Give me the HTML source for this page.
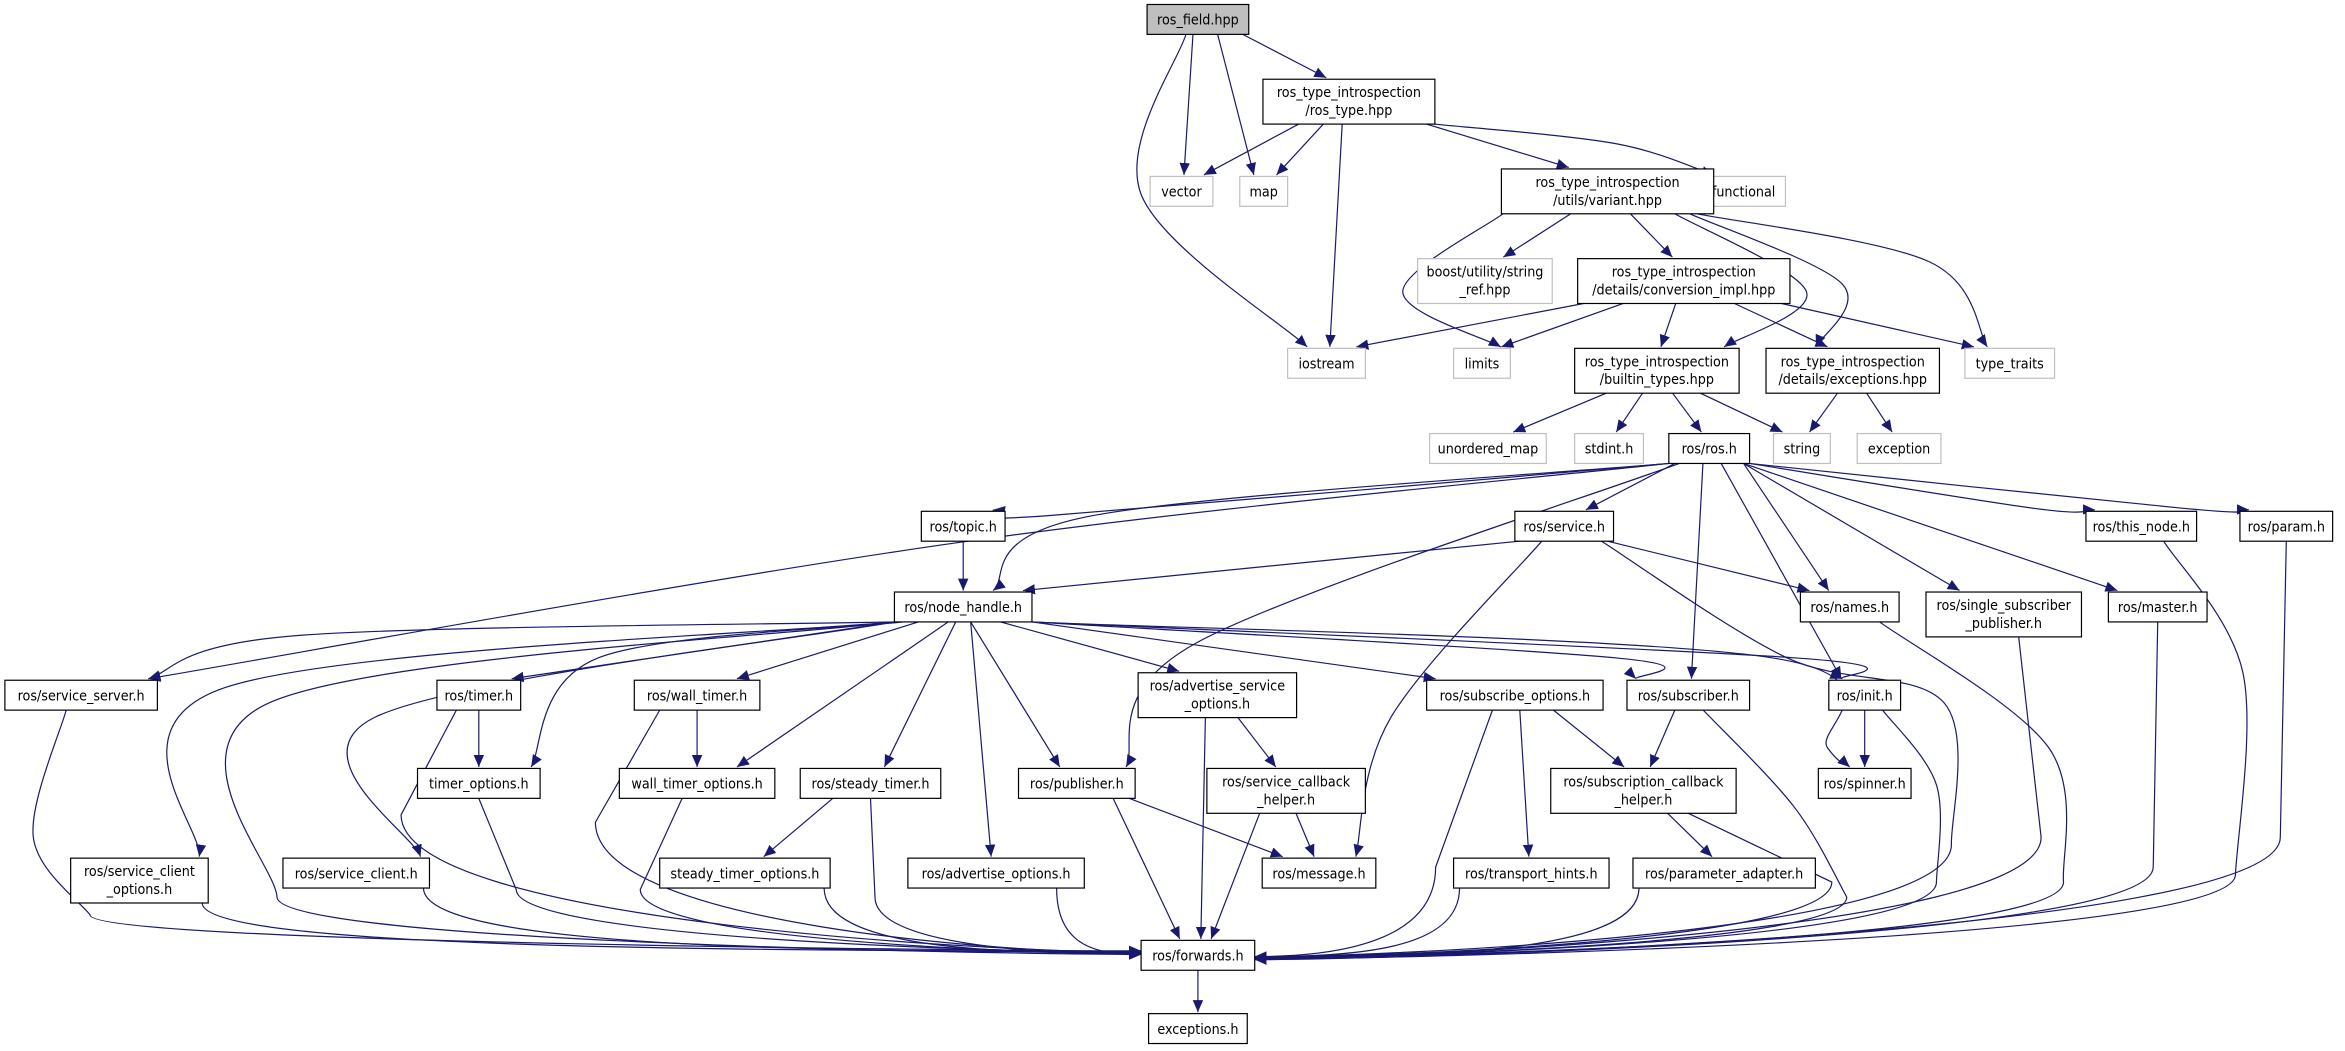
<!DOCTYPE html>
<html><head><meta charset="utf-8"><style>
html,body{margin:0;padding:0;background:#fff;}
svg{display:block;}
text{font-family:"DejaVu Sans Condensed","DejaVu Sans","Liberation Sans",sans-serif;font-size:9.5px;fill:#000;}
</style></head><body>
<svg id="g" width="2345" height="1051" viewBox="0 0 1568 703" xmlns="http://www.w3.org/2000/svg">
<defs><marker id="a" markerWidth="10" markerHeight="10" refX="8" refY="3.5" orient="auto" markerUnits="userSpaceOnUse"><path d="M0,0 L8,3.5 L0,7 Z" fill="#191970"/></marker></defs>
<rect width="1568" height="703" fill="#fff"/>
<g id="edges" fill="none" stroke="#191970" stroke-width="0.8"></g>
<g id="nodes">
<rect x="767" y="3" width="68" height="20" fill="#bfbfbf" stroke="#000" stroke-width="0.8"/><text x="801" y="16.5" text-anchor="middle">ros_field.hpp</text>
<rect x="844.5" y="53" width="115" height="30" fill="#fff" stroke="#000" stroke-width="0.8"/><text x="902" y="65" text-anchor="middle">ros_type_introspection</text><text x="902" y="77" text-anchor="middle">/ros_type.hpp</text>
<rect x="769" y="118" width="42" height="20" fill="#fff" stroke="#bfbfbf" stroke-width="0.8"/><text x="790" y="131.5" text-anchor="middle">vector</text>
<rect x="829" y="118" width="32" height="20" fill="#fff" stroke="#bfbfbf" stroke-width="0.8"/><text x="845" y="131.5" text-anchor="middle">map</text>
<rect x="1138" y="118" width="56" height="20" fill="#fff" stroke="#bfbfbf" stroke-width="0.8"/><text x="1166" y="131.5" text-anchor="middle">functional</text>
<rect x="1004" y="113" width="142" height="30" fill="#fff" stroke="#000" stroke-width="0.8"/><text x="1075" y="125" text-anchor="middle">ros_type_introspection</text><text x="1075" y="137" text-anchor="middle">/utils/variant.hpp</text>
<rect x="948" y="173" width="90" height="30" fill="#fff" stroke="#bfbfbf" stroke-width="0.8"/><text x="993" y="185" text-anchor="middle">boost/utility/string</text><text x="993" y="197" text-anchor="middle">_ref.hpp</text>
<rect x="1055" y="173" width="142" height="30" fill="#fff" stroke="#000" stroke-width="0.8"/><text x="1126" y="185" text-anchor="middle">ros_type_introspection</text><text x="1126" y="197" text-anchor="middle">/details/conversion_impl.hpp</text>
<rect x="861" y="233" width="52" height="20" fill="#fff" stroke="#bfbfbf" stroke-width="0.8"/><text x="887" y="246.5" text-anchor="middle">iostream</text>
<rect x="972" y="233" width="38" height="20" fill="#fff" stroke="#bfbfbf" stroke-width="0.8"/><text x="991" y="246.5" text-anchor="middle">limits</text>
<rect x="1053" y="233" width="110" height="30" fill="#fff" stroke="#000" stroke-width="0.8"/><text x="1108" y="245" text-anchor="middle">ros_type_introspection</text><text x="1108" y="257" text-anchor="middle">/builtin_types.hpp</text>
<rect x="1181" y="233" width="116" height="30" fill="#fff" stroke="#000" stroke-width="0.8"/><text x="1239" y="245" text-anchor="middle">ros_type_introspection</text><text x="1239" y="257" text-anchor="middle">/details/exceptions.hpp</text>
<rect x="1314" y="233" width="60" height="20" fill="#fff" stroke="#bfbfbf" stroke-width="0.8"/><text x="1344" y="246.5" text-anchor="middle">type_traits</text>
<rect x="956" y="290" width="78" height="20" fill="#fff" stroke="#bfbfbf" stroke-width="0.8"/><text x="995" y="303.5" text-anchor="middle">unordered_map</text>
<rect x="1053" y="290" width="46" height="20" fill="#fff" stroke="#bfbfbf" stroke-width="0.8"/><text x="1076" y="303.5" text-anchor="middle">stdint.h</text>
<rect x="1116" y="290" width="54" height="20" fill="#fff" stroke="#000" stroke-width="0.8"/><text x="1143" y="303.5" text-anchor="middle">ros/ros.h</text>
<rect x="1186" y="290" width="38" height="20" fill="#fff" stroke="#bfbfbf" stroke-width="0.8"/><text x="1205" y="303.5" text-anchor="middle">string</text>
<rect x="1242" y="290" width="56" height="20" fill="#fff" stroke="#bfbfbf" stroke-width="0.8"/><text x="1270" y="303.5" text-anchor="middle">exception</text>
<rect x="616" y="342" width="56" height="20" fill="#fff" stroke="#000" stroke-width="0.8"/><text x="644" y="355.5" text-anchor="middle">ros/topic.h</text>
<rect x="1013" y="342" width="66" height="20" fill="#fff" stroke="#000" stroke-width="0.8"/><text x="1046" y="355.5" text-anchor="middle">ros/service.h</text>
<rect x="1395" y="342" width="74" height="20" fill="#fff" stroke="#000" stroke-width="0.8"/><text x="1432" y="355.5" text-anchor="middle">ros/this_node.h</text>
<rect x="1498" y="342" width="62" height="20" fill="#fff" stroke="#000" stroke-width="0.8"/><text x="1529" y="355.5" text-anchor="middle">ros/param.h</text>
<rect x="598" y="396" width="92" height="20" fill="#fff" stroke="#000" stroke-width="0.8"/><text x="644" y="409.5" text-anchor="middle">ros/node_handle.h</text>
<rect x="1204" y="396" width="66" height="20" fill="#fff" stroke="#000" stroke-width="0.8"/><text x="1237" y="409.5" text-anchor="middle">ros/names.h</text>
<rect x="1288" y="396" width="104" height="30" fill="#fff" stroke="#000" stroke-width="0.8"/><text x="1340" y="408" text-anchor="middle">ros/single_subscriber</text><text x="1340" y="420" text-anchor="middle">_publisher.h</text>
<rect x="1410" y="396" width="66" height="20" fill="#fff" stroke="#000" stroke-width="0.8"/><text x="1443" y="409.5" text-anchor="middle">ros/master.h</text>
<rect x="3" y="455" width="102" height="20" fill="#fff" stroke="#000" stroke-width="0.8"/><text x="54" y="468.5" text-anchor="middle">ros/service_server.h</text>
<rect x="292" y="455" width="56" height="20" fill="#fff" stroke="#000" stroke-width="0.8"/><text x="320" y="468.5" text-anchor="middle">ros/timer.h</text>
<rect x="424" y="455" width="84" height="20" fill="#fff" stroke="#000" stroke-width="0.8"/><text x="466" y="468.5" text-anchor="middle">ros/wall_timer.h</text>
<rect x="761" y="450" width="106" height="30" fill="#fff" stroke="#000" stroke-width="0.8"/><text x="814" y="462" text-anchor="middle">ros/advertise_service</text><text x="814" y="474" text-anchor="middle">_options.h</text>
<rect x="954" y="455" width="118" height="20" fill="#fff" stroke="#000" stroke-width="0.8"/><text x="1013" y="468.5" text-anchor="middle">ros/subscribe_options.h</text>
<rect x="1088" y="455" width="82" height="20" fill="#fff" stroke="#000" stroke-width="0.8"/><text x="1129" y="468.5" text-anchor="middle">ros/subscriber.h</text>
<rect x="1223" y="455" width="48" height="20" fill="#fff" stroke="#000" stroke-width="0.8"/><text x="1247" y="468.5" text-anchor="middle">ros/init.h</text>
<rect x="279" y="514" width="82" height="20" fill="#fff" stroke="#000" stroke-width="0.8"/><text x="320" y="527.5" text-anchor="middle">timer_options.h</text>
<rect x="414" y="514" width="104" height="20" fill="#fff" stroke="#000" stroke-width="0.8"/><text x="466" y="527.5" text-anchor="middle">wall_timer_options.h</text>
<rect x="535" y="514" width="94" height="20" fill="#fff" stroke="#000" stroke-width="0.8"/><text x="582" y="527.5" text-anchor="middle">ros/steady_timer.h</text>
<rect x="681" y="514" width="78" height="20" fill="#fff" stroke="#000" stroke-width="0.8"/><text x="720" y="527.5" text-anchor="middle">ros/publisher.h</text>
<rect x="807" y="514" width="106" height="30" fill="#fff" stroke="#000" stroke-width="0.8"/><text x="860" y="526" text-anchor="middle">ros/service_callback</text><text x="860" y="538" text-anchor="middle">_helper.h</text>
<rect x="1037" y="514" width="124" height="30" fill="#fff" stroke="#000" stroke-width="0.8"/><text x="1099" y="526" text-anchor="middle">ros/subscription_callback</text><text x="1099" y="538" text-anchor="middle">_helper.h</text>
<rect x="1216" y="514" width="62" height="20" fill="#fff" stroke="#000" stroke-width="0.8"/><text x="1247" y="527.5" text-anchor="middle">ros/spinner.h</text>
<rect x="47" y="574" width="92" height="30" fill="#fff" stroke="#000" stroke-width="0.8"/><text x="93" y="586" text-anchor="middle">ros/service_client</text><text x="93" y="598" text-anchor="middle">_options.h</text>
<rect x="189" y="574" width="98" height="20" fill="#fff" stroke="#000" stroke-width="0.8"/><text x="238" y="587.5" text-anchor="middle">ros/service_client.h</text>
<rect x="441" y="574" width="114" height="20" fill="#fff" stroke="#000" stroke-width="0.8"/><text x="498" y="587.5" text-anchor="middle">steady_timer_options.h</text>
<rect x="607" y="574" width="118" height="20" fill="#fff" stroke="#000" stroke-width="0.8"/><text x="666" y="587.5" text-anchor="middle">ros/advertise_options.h</text>
<rect x="844" y="574" width="76" height="20" fill="#fff" stroke="#000" stroke-width="0.8"/><text x="882" y="587.5" text-anchor="middle">ros/message.h</text>
<rect x="972" y="574" width="104" height="20" fill="#fff" stroke="#000" stroke-width="0.8"/><text x="1024" y="587.5" text-anchor="middle">ros/transport_hints.h</text>
<rect x="1092" y="574" width="122" height="20" fill="#fff" stroke="#000" stroke-width="0.8"/><text x="1153" y="587.5" text-anchor="middle">ros/parameter_adapter.h</text>
<rect x="763" y="629" width="76" height="20" fill="#fff" stroke="#000" stroke-width="0.8"/><text x="801" y="642.5" text-anchor="middle">ros/forwards.h</text>
<rect x="768" y="678" width="66" height="20" fill="#fff" stroke="#000" stroke-width="0.8"/><text x="801" y="691.5" text-anchor="middle">exceptions.h</text>
</g>
</svg>
<script>
(function(){
var N={
rf:[801,13,68,20],rt:[902,68,115,30],vec:[790,128,42,20],map:[845,128,32,20],fun:[1166,128,56,20],
vr:[1075,128,142,30],bst:[993,188,90,30],conv:[1126,188,142,30],ios:[887,243,52,20],lim:[991,243,38,20],
bt:[1108,248,110,30],exh:[1239,248,116,30],tt:[1344,243,60,20],um:[995,300,78,20],sd:[1076,300,46,20],
ros:[1143,300,54,20],str:[1205,300,38,20],exc:[1270,300,56,20],top:[644,352,56,20],srv:[1046,352,66,20],
tn:[1432,352,74,20],par:[1529,352,62,20],nh:[644,406,92,20],nam:[1237,406,66,20],ssp:[1340,411,104,30],
mas:[1443,406,66,20],ss:[54,465,102,20],tim:[320,465,56,20],wt:[466,465,84,20],aso:[814,465,106,30],
so:[1013,465,118,20],sub:[1129,465,82,20],ini:[1247,465,48,20],to:[320,524,82,20],wto:[466,524,104,20],
st:[582,524,94,20],pub:[720,524,78,20],sch:[860,529,106,30],scb:[1099,529,124,30],spn:[1247,524,62,20],
sco:[93,589,92,30],sc:[238,584,98,20],sto:[498,584,114,20],ao:[666,584,118,20],msg:[882,584,76,20],
th:[1024,584,104,20],pa:[1153,584,122,20],fw:[801,639,76,20],ex:[801,688,66,20]};
var E=[['rf','vec'],['rf','map'],['rf','rt'],['rf','ios',-8,[[763,130]]],['rt','vec'],['rt','map'],['rt','ios'],['rt','vr'],['rt','fun',57,[[1080,96]],-20],
['vr','lim',-70,[[938,195]]],['vr','bst'],['vr','conv'],['vr','bt',45,[[1208,195]],45],['vr','exh',55,[[1232,190]]],['vr','tt',60,[[1290,175]],-15],
['conv','ios'],['conv','lim'],['conv','bt'],['conv','exh'],['conv','tt'],
['bt','um'],['bt','sd'],['bt','ros'],['bt','str'],['exh','str'],['exh','exc'],
['ros','top',-27,[[700,345]],20],['ros','nh',-27,[[730,345]],20],['ros','ss',-27,[[640,363]]],['ros','srv'],['ros','pub',-20,[[800,430]]],['ros','sub'],['ros','nam'],['ros','ini',8],['ros','ssp'],['ros','mas'],['ros','tn',27,[[1360,340]]],['ros','par',27,[[1460,340]]],
['top','nh'],['srv','nh',-30],['srv','nam'],['srv','msg',-15,[[930,480]]],['srv','fw',25,[[1195,440],[1300,470],[1305,565]]],
['tn','fw',15,[[1500,450],[1495,585]]],['par','fw',0,[[1525,560]]],['nam','fw',20,[[1370,500],[1380,590]]],['ssp','fw',10,[[1365,560]]],['mas','fw',0,[[1440,580]]],
['nh','ss',-46,[[200,425]]],['nh','sco',-46,[[150,460]]],['nh','fw',-46,[[180,470],[185,600]]],['nh','sc',-46,[[250,480]]],['nh','tim',-46],['nh','to',-40,[[400,440]]],['nh','wt',-30],['nh','wto',-10],['nh','st',-5],['nh','pub',5],['nh','ao',5],['nh','aso',25],['nh','so',46],['nh','sub',46,[[1080,440]]],['nh','ini',46,[[1200,440]],-15],['nh','spn',46,[[1185,440],[1222,500]],-10],
['ss','fw',-10,[[22,560],[60,612]]],['tim','to'],['tim','fw',-15,[[268,545]]],['wt','wto'],['wt','fw',-25,[[398,550]]],['aso','sch'],['aso','fw',-8],['so','scb'],['so','th'],['so','fw',-15,[[960,580]]],['sub','scb'],['sub','fw',10,[[1200,540],[1235,600]]],['ini','spn'],['ini','fw',12,[[1295,525],[1295,590]]],
['to','fw',0,[[345,595]]],['wto','fw',-10,[[428,595]]],['st','sto'],['st','fw',0,[[585,600]]],['pub','msg'],['pub','fw'],['sch','msg'],['sch','fw'],['scb','pa'],['scb','fw',30,[[1225,590]]],
['sco','fw'],['sc','fw'],['sto','fw'],['ao','fw'],['th','fw'],['pa','fw'],['fw','ex']];
var g=document.getElementById('edges'),ns='http://www.w3.org/2000/svg';
function cl(v,m){return Math.max(-m,Math.min(m,v));}
function cr(P){var d='M'+P[0][0]+','+P[0][1];
 for(var i=0;i<P.length-1;i++){var p0=P[i-1]||P[i],p1=P[i],p2=P[i+1],p3=P[i+2]||p2;
  var c1=[p1[0]+(p2[0]-p0[0])/6,p1[1]+(p2[1]-p0[1])/6],c2=[p2[0]-(p3[0]-p1[0])/6,p2[1]-(p3[1]-p1[1])/6];
  d+=' C'+c1[0].toFixed(1)+','+c1[1].toFixed(1)+' '+c2[0].toFixed(1)+','+c2[1].toFixed(1)+' '+p2[0]+','+p2[1];}
 return d;}
E.forEach(function(e){
var s=N[e[0]],t=N[e[1]];
var sy=s[1]+s[3]/2,ty=t[1]-t[3]/2-1;
var dx=t[0]-s[0];
var sx=(e[2]!=null)?s[0]+e[2]:s[0]+cl(dx*0.3,s[2]/2-4);
var tx=(e[4]!=null)?t[0]+e[4]:t[0]+cl(-dx*0.15,t[2]/2-6);
var wps=e[3]||[];
var d;
if(e[1]=='fw'&&Math.abs(dx)>90){
 var sg=dx>0?1:-1, ex=dx>0?763:839, ey=639+cl(-dx*0.004,6);
 if(wps.length){
  var P=[[sx,sy]].concat(wps);d=cr(P);var lw=wps[wps.length-1];
  d+=' C'+lw[0]+','+(lw[1]+(ey-lw[1])*0.8)+' '+(ex-sg*Math.min(80,Math.abs(ex-lw[0])*0.5))+','+ey+' '+ex+','+ey;
 }else{
  d='M'+sx+','+sy+' C'+sx+','+(sy+(ey-sy)*0.9)+' '+(ex-(ex-sx)*0.5)+','+ey+' '+ex+','+ey;
 }
}else if(wps.length){
 var P=[[sx,sy]].concat(wps);P.push([tx,ty]);d=cr(P);
}else{
 d='M'+sx+','+sy+' L'+tx+','+ty;
}
var p=document.createElementNS(ns,'path');p.setAttribute('d',d);p.setAttribute('marker-end','url(#a)');g.appendChild(p);
});
})();
</script>
</body></html>
